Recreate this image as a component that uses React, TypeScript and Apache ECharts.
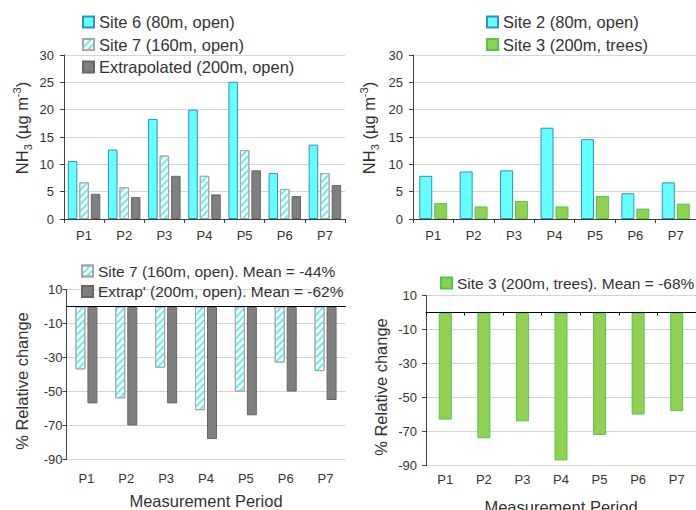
import React, { useEffect, useRef } from 'react';
import * as echarts from 'echarts';

const periods = ['P1', 'P2', 'P3', 'P4', 'P5', 'P6', 'P7'];
const site6 = [10.6, 12.7, 18.3, 20.0, 25.1, 8.4, 13.6];
const site7 = [6.7, 5.8, 11.6, 7.9, 12.6, 5.5, 8.4];
const extrap = [4.6, 4.0, 7.9, 4.5, 8.9, 4.2, 6.2];
const site2 = [7.9, 8.7, 8.9, 16.7, 14.6, 4.7, 6.7];
const site3 = [2.9, 2.3, 3.3, 2.3, 4.2, 1.9, 2.8];
const relSite7 = [-37, -54, -36, -61, -50, -33, -38];
const relExtrap = [-57, -70, -57, -78, -64, -50, -55];
const relSite3 = [-63, -74, -64, -87, -72, -60, -58];
const relTicks = [-90, -70, -50, -30, -10, 10];

const TXT = '#333333';
const GRID = '#d4d4d4';
const AX = '#404040';
const CYAN = '#66ffff';
const CYAN_BORDER = '#2f8fc8';
const GRAY = '#7f7f7f';
const GRAY_BORDER = '#666666';
const GREEN = '#92d050';
const GREEN_BORDER = '#4cc850';
const FONT = 'Liberation Sans, Arial, sans-serif';

const hatch = {
  color: '#ffffff',
  borderColor: '#a6a6a6',
  borderWidth: 1,
  decal: {
    symbol: 'rect',
    symbolSize: 1,
    dashArrayX: [1, 0],
    dashArrayY: [2, 3],
    rotation: -Math.PI / 4,
    color: '#5ff0f5',
  },
};

const nhName = '{a|NH}{sub|3}{a| (µg m}{sup|-3}{a|)}';
const nhRich = {
  a: { fontSize: 16.5, lineHeight: 22, color: TXT, fontFamily: FONT },
  sub: { fontSize: 11, lineHeight: 11, verticalAlign: 'bottom', color: TXT, fontFamily: FONT },
  sup: { fontSize: 11, lineHeight: 11, verticalAlign: 'top', color: TXT, fontFamily: FONT },
};

const gridMarkLine = {
  silent: true,
  symbol: ['none', 'none'],
  z: 1,
  label: { show: false },
  emphasis: { disabled: true },
  lineStyle: { color: GRID, width: 1, type: 'solid' },
  data: relTicks.map((v) => ({ yAxis: v })),
};

function concYAxis(gridIndex: number, gap: number) {
  return {
    type: 'value',
    gridIndex,
    min: 0,
    max: 30,
    interval: 5,
    name: nhName,
    nameLocation: 'middle',
    nameRotate: 90,
    nameGap: gap,
    nameTextStyle: { rich: nhRich, padding: [0, 0, 0, 18] },
    axisLine: { show: true, lineStyle: { color: AX, width: 1 } },
    axisTick: { show: true, length: 4, lineStyle: { color: AX } },
    axisLabel: { margin: 10, fontSize: 13, color: TXT, fontFamily: FONT },
    splitLine: { show: true, lineStyle: { color: GRID, width: 1 } },
  };
}

function relYAxis(gridIndex: number, gap: number, margin: number) {
  return {
    type: 'value',
    gridIndex,
    min: -90,
    max: 10,
    interval: 10,
    name: '% Relative change',
    nameLocation: 'middle',
    nameRotate: 90,
    nameGap: gap,
    nameTextStyle: { fontSize: 16.5, color: TXT, fontFamily: FONT, padding: [0, 13, 0, 0] },
    axisLine: { show: true, onZero: false, lineStyle: { color: AX, width: 1 } },
    axisTick: { show: true, length: 4, lineStyle: { color: AX }, customValues: relTicks },
    axisLabel: { margin, fontSize: 13, color: TXT, fontFamily: FONT, customValues: relTicks },
    splitLine: { show: false },
    z: 3,
  };
}

function catAxis(gridIndex: number, extra: any) {
  return {
    type: 'category',
    gridIndex,
    data: periods,
    axisTick: { show: true, length: 4, lineStyle: { color: AX } },
    axisLine: { show: true, lineStyle: { color: AX, width: 1 } },
    axisLabel: { margin: 10, fontSize: 13, color: TXT, fontFamily: FONT },
    ...extra,
  };
}

// hidden 0..1 x axis spanning the full grid width, used for horizontal gridlines
function spanAxis(gridIndex: number) {
  return { type: 'value', gridIndex, min: 0, max: 1, show: false };
}

function gridLineSeries(xAxisIndex: number, yAxisIndex: number) {
  return relTicks.map((v) => ({
    type: 'line',
    xAxisIndex,
    yAxisIndex,
    silent: true,
    clip: false,
    z: 1,
    symbol: 'none',
    lineStyle: { color: GRID, width: 1 },
    emphasis: { disabled: true },
    data: [[0, v], [1, v]],
  }));
}

const legendText = (size: number) => ({ fontSize: size, color: TXT, fontFamily: FONT, lineHeight: 18 });

export default function App() {
  const ref = useRef<HTMLDivElement>(null);
  useEffect(() => {
    if (!ref.current) return;
    const chart = echarts.init(ref.current, undefined, { renderer: 'svg' });
    const option: any = {
      animation: false,
      backgroundColor: '#ffffff',
      textStyle: { fontFamily: FONT },
      grid: [
        { left: 64, top: 55, width: 281, height: 164, outerBoundsMode: 'none', containLabel: false },
        { left: 413, top: 55, width: 283, height: 164, outerBoundsMode: 'none', containLabel: false },
        { left: 66.5, top: 289.5, width: 279, height: 170, outerBoundsMode: 'none', containLabel: false },
        { left: 426, top: 295.5, width: 270, height: 170, outerBoundsMode: 'none', containLabel: false },
      ],
      legend: [
        {
          left: 82, top: 13, padding: 0, orient: 'vertical', itemWidth: 11, itemHeight: 11, itemGap: 4.5,
          textStyle: legendText(16.5), icon: 'rect',
          data: ['Site 6 (80m, open)', 'Site 7 (160m, open)', 'Extrapolated (200m, open)'],
        },
        {
          left: 486, top: 13, padding: 0, orient: 'vertical', itemWidth: 11, itemHeight: 11, itemGap: 4.5,
          textStyle: legendText(16.5), icon: 'rect',
          data: ['Site 2 (80m, open)', 'Site 3 (200m, trees)'],
        },
        {
          left: 81, top: 262, padding: 0, orient: 'vertical', itemWidth: 11, itemHeight: 11, itemGap: 2.5,
          textStyle: legendText(15.5), icon: 'rect',
          data: ['Site 7 (160m, open). Mean = -44%', "Extrap' (200m, open). Mean = -62%"],
        },
        {
          left: 440, top: 274, padding: 0, orient: 'vertical', itemWidth: 11, itemHeight: 11, itemGap: 2.5,
          textStyle: legendText(15.5), icon: 'rect',
          data: ['Site 3 (200m, trees). Mean = -68%'],
        },
      ],
      xAxis: [
        catAxis(0, {}),
        catAxis(1, {}),
        catAxis(2, {
          position: 'bottom',
          axisLine: { show: false, onZero: false },
          axisTick: { show: false },
          axisLabel: { margin: 12.5, fontSize: 13, color: TXT, fontFamily: FONT },
          name: 'Measurement Period',
          nameLocation: 'middle',
          nameGap: 32.5,
          nameTextStyle: { fontSize: 16.5, color: TXT, fontFamily: FONT },
        }),
        catAxis(2, {
          position: 'top',
          axisLine: { show: true, onZero: true, onZeroAxisIndex: 2, lineStyle: { color: '#000000', width: 1.2 } },
          axisTick: { show: false },
          axisLabel: { show: false },
          z: 4,
        }),
        catAxis(3, {
          position: 'bottom',
          axisLine: { show: false, onZero: false },
          axisTick: { show: false },
          axisLabel: { margin: 7, fontSize: 13, color: TXT, fontFamily: FONT },
          name: 'Measurement Period',
          nameLocation: 'middle',
          nameGap: 33,
          nameTextStyle: { fontSize: 16.5, color: TXT, fontFamily: FONT },
        }),
        catAxis(3, {
          position: 'top',
          axisLine: { show: true, onZero: true, onZeroAxisIndex: 3, lineStyle: { color: '#000000', width: 1.2 } },
          axisTick: { show: true, inside: true, length: 3, lineStyle: { color: '#000000' } },
          axisLabel: { show: false },
          z: 4,
        }),
        spanAxis(2),
        spanAxis(3),
      ],
      yAxis: [
        concYAxis(0, 31),
        concYAxis(1, 33),
        relYAxis(2, 36, 4),
        relYAxis(3, 37, 9),
      ],
      series: [
        {
          name: 'Site 6 (80m, open)', type: 'bar', xAxisIndex: 0, yAxisIndex: 0,
          data: site6, barWidth: 9.5, barGap: '21%',
          itemStyle: { color: CYAN, borderColor: CYAN_BORDER, borderWidth: 1 },
        },
        {
          name: 'Site 7 (160m, open)', type: 'bar', xAxisIndex: 0, yAxisIndex: 0,
          data: site7, barWidth: 9.5, barGap: '21%', itemStyle: hatch,
        },
        {
          name: 'Extrapolated (200m, open)', type: 'bar', xAxisIndex: 0, yAxisIndex: 0,
          data: extrap, barWidth: 9.5, barGap: '21%',
          itemStyle: { color: GRAY, borderColor: GRAY_BORDER, borderWidth: 1 },
        },
        {
          name: 'Site 2 (80m, open)', type: 'bar', xAxisIndex: 1, yAxisIndex: 1,
          data: site2, barWidth: 13, barGap: '15%',
          itemStyle: { color: CYAN, borderColor: CYAN_BORDER, borderWidth: 1 },
        },
        {
          name: 'Site 3 (200m, trees)', type: 'bar', xAxisIndex: 1, yAxisIndex: 1,
          data: site3, barWidth: 13, barGap: '15%',
          itemStyle: { color: GREEN, borderColor: GREEN_BORDER, borderWidth: 1 },
        },
        ...gridLineSeries(6, 2),
        ...gridLineSeries(7, 3),
        {
          name: 'Site 7 (160m, open). Mean = -44%', type: 'bar', xAxisIndex: 2, yAxisIndex: 2,
          data: relSite7, barWidth: 10, barGap: '20%', itemStyle: hatch, z: 2,
          markLine: gridMarkLine,
        },
        {
          name: "Extrap' (200m, open). Mean = -62%", type: 'bar', xAxisIndex: 2, yAxisIndex: 2,
          data: relExtrap, barWidth: 10, barGap: '20%', z: 2,
          itemStyle: { color: GRAY, borderColor: GRAY_BORDER, borderWidth: 1 },
        },
        {
          name: 'Site 3 (200m, trees). Mean = -68%', type: 'bar', xAxisIndex: 4, yAxisIndex: 3,
          data: relSite3, barWidth: 13, z: 2,
          itemStyle: { color: GREEN, borderColor: GREEN_BORDER, borderWidth: 1 },
          markLine: gridMarkLine,
        },
      ],
    };
    chart.setOption(option);
    return () => chart.dispose();
  }, []);
  return (
    <div
      ref={ref}
      style={{ position: 'fixed', left: 0, top: 0, width: 696, height: 510, background: '#fff' }}
    />
  );
}
